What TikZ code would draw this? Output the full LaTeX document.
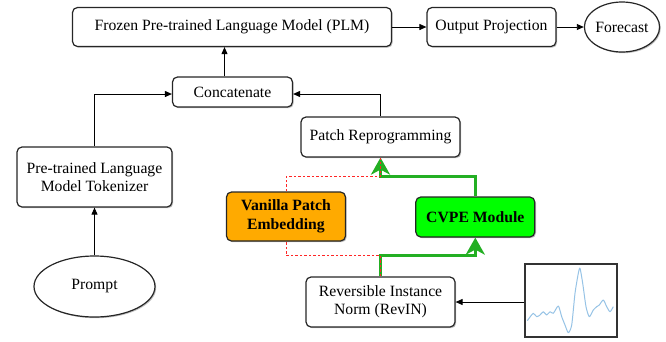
\documentclass[tikz,border=0pt]{standalone}
\usepackage{fontspec}
\setmainfont{Liberation Serif}
\usetikzlibrary{shadows,arrows.meta,shapes.geometric}
\definecolor{orangefill}{RGB}{255,170,0}
\definecolor{greenfill}{RGB}{0,255,0}
\definecolor{greenline}{RGB}{35,175,35}
\definecolor{wave}{RGB}{150,195,230}
\begin{document}
\begin{tikzpicture}[x=1pt,y=-1pt,
  shad/.style={drop shadow={shadow xshift=1.2pt,shadow yshift=-1.2pt,opacity=0.25,fill=black}},
  box/.style={draw=black!85,line width=1.2pt,rounded corners=5pt,fill=white,align=center,inner sep=0pt,
    font=\fontsize{15.7}{18}\selectfont,shad},
  oval/.style={draw=black!85,line width=1.2pt,ellipse,fill=white,inner sep=0pt,
    font=\fontsize{15.7}{18}\selectfont,shad},
  conn/.style={draw=black,line width=0.9pt,-{Triangle[length=7pt,width=6pt]}},
  gconn/.style={draw=greenline,line width=3pt,-{Stealth[length=17pt,width=19pt,inset=5pt]}},
  rdash/.style={draw=red!85,line width=0.7pt,dash pattern=on 2.5pt off 2pt}
]
\useasboundingbox (0,0) rectangle (666,341);

\node[box,minimum width=319pt,minimum height=39pt] (plm) at (232,27) {Frozen Pre-trained Language Model (PLM)};
\node[box,minimum width=129pt,minimum height=39pt] (outp) at (491.5,27) {Output Projection};
\node[oval,minimum width=66pt,minimum height=50pt] (fc) at (622,27) {Forecast};
\node[box,minimum width=120pt,minimum height=30pt] (concat) at (232.5,92) {Concatenate};
\node[box,minimum width=159pt,minimum height=40pt] (repro) at (380.5,137) {Patch Reprogramming};
\node[box,minimum width=155pt,minimum height=60pt] (tok) at (94.5,177) {Pre-trained Language\\Model Tokenizer};
\node[oval,minimum width=121pt,minimum height=61pt] (prompt) at (94.5,286.5) {Prompt};
\node[box,fill=orangefill,minimum width=119pt,minimum height=49pt,font=\fontsize{15.7}{19}\selectfont\bfseries] (van) at (286,216.5) {Vanilla Patch\\Embedding};
\node[box,fill=greenfill,minimum width=119pt,minimum height=40pt,font=\fontsize{15.7}{18}\selectfont\bfseries] (cvpe) at (475.3,217) {CVPE Module};
\node[box,minimum width=149pt,minimum height=50pt] (revin) at (380.5,302) {Reversible Instance\\Norm (RevIN)};
\node[draw=black!80,line width=1.5pt,fill=white,shad,minimum width=92pt,minimum height=73pt,inner sep=0pt] (sig) at (571,300.5) {};

% waveform
\draw[wave,line width=1pt,line join=round] plot[smooth,tension=0.4] coordinates {
(527.3,320.7)(530,317)(533.3,313.3)(536.7,316.7)(540,315)(543.3,311.7)(546.7,315)(550,311.7)(553.3,313.3)
(558.3,306)(561.7,316.7)(565,325)(568.3,332.7)(571.7,325)(575,293.3)(578.3,273.3)(580,268.3)
(582.7,283.3)(586,306.7)(589.3,316.7)(593.3,310)(596.7,306.7)(599.3,305)(603.3,300)(606.7,306.7)
(610,311.7)(613.3,306.7)};

% black connectors
\draw[conn] (plm.east) -- (outp.west);
\draw[conn] (outp.east) -- (fc.west);
\draw[conn] ([xshift=-8pt]concat.north) -- ([xshift=-8pt]concat.north |- plm.south);
\draw[conn] (tok.north) |- ([yshift=-2pt]concat.west);
\draw[conn] (repro.north) |- ([yshift=-2pt]concat.east);
\draw[conn] (prompt.north) -- (tok.south);
\draw[conn] (sig.west |- revin.east) -- (revin.east);

% green path
\coordinate (g1) at (380.7,255.7);
\coordinate (g2) at (380.7,176.7);
\draw[gconn] (revin.north) -- (revin.north |- g1) -| (cvpe.south);
\draw[gconn] (cvpe.north) |- (repro.south |- g2) -- (repro.south);

% red dashed path
\draw[rdash] (revin.north) -- (revin.north |- g1) -| (van.south);
\draw[rdash] (van.north) |- (repro.south |- g2) -- (repro.south);
\end{tikzpicture}
\end{document}
